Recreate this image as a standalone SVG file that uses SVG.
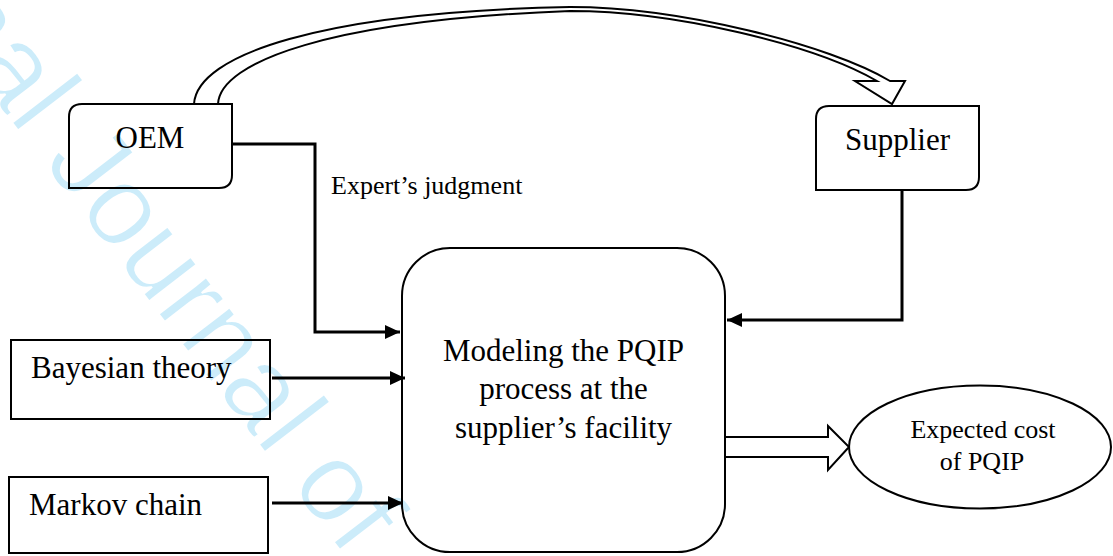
<svg xmlns="http://www.w3.org/2000/svg" width="1113" height="556" viewBox="0 0 1113 556">
  <style>
    .box { fill: none; stroke: #000; stroke-width: 2; }
    .conn { fill: none; stroke: #000; stroke-width: 3; }
    .hollow { fill: none; stroke: #000; stroke-width: 2; stroke-linejoin: miter; }
    .lbl { font-family: "Liberation Serif", "Times New Roman", serif; font-size: 31px; fill: #000; }
    .small { font-family: "Liberation Serif", "Times New Roman", serif; font-size: 26px; fill: #000; }
    .wm { font-family: "Liberation Sans", Arial, sans-serif; font-size: 114px; fill: #ccecfa; stroke: #fff; stroke-width: 2; }
  </style>
  <defs>
    <marker id="ah" viewBox="0 0 15 14" refX="15" refY="7" markerWidth="15" markerHeight="14" markerUnits="userSpaceOnUse" orient="auto">
      <path d="M0,0 L15,7 L0,14 z" fill="#000"/>
    </marker>
  </defs>
  <rect width="1113" height="556" fill="#fff"/>

  <g id="watermark">
    <text class="wm" transform="translate(-70,16) rotate(52.5)">nal Journal of</text>
  </g>

  <g id="connectors">
    <path id="oem-supplier" class="hollow" d="M194,104 C197,55 320,12 570,7 C680,7 830,45 890,81 L905,81 L892,104 L855,81 L877,81 C815,45 675,11 570,11 C330,20 220,62 218,104"/>
    <path id="oem-model" class="conn" d="M232,144 L315,144 L315,332 L400,332" marker-end="url(#ah)"/>
    <path id="bayes-model" class="conn" d="M272,378 L405,378" marker-end="url(#ah)"/>
    <path id="markov-model" class="conn" d="M272,503 L403,503" marker-end="url(#ah)"/>
    <path id="supplier-model" class="conn" d="M902,190 L902,320 L727,320" marker-end="url(#ah)"/>
    <path id="model-cost" class="hollow" d="M725,437 L828,437 L828,426 L849,447 L828,470 L828,457 L725,457"/>
    <text class="small" x="331" y="194" font-size="25.5">Expert’s judgment</text>
  </g>

  <g id="oem">
    <path class="box" d="M82,104 L232,104 L232,175 Q232,188 219,188 L69,188 L69,117 Q69,104 82,104 Z"/>
    <text class="lbl" x="150" y="148" text-anchor="middle">OEM</text>
  </g>

  <g id="supplier">
    <path class="box" d="M829,106 L979,106 L979,177 Q979,190 966,190 L816,190 L816,119 Q816,106 829,106 Z"/>
    <text class="lbl" x="897.5" y="150" text-anchor="middle">Supplier</text>
  </g>

  <g id="bayesian">
    <rect class="box" x="11" y="340" width="259" height="79"/>
    <text class="lbl" x="31" y="378">Bayesian theory</text>
  </g>

  <g id="markov">
    <rect class="box" x="9" y="477" width="259" height="76"/>
    <text class="lbl" x="29" y="515">Markov chain</text>
  </g>

  <g id="model">
    <rect class="box" x="402" y="248" width="323" height="304" rx="48" ry="48"/>
    <text class="lbl" x="563.5" y="361" text-anchor="middle">Modeling the PQIP</text>
    <text class="lbl" x="563.5" y="399" text-anchor="middle">process at the</text>
    <text class="lbl" x="563.5" y="438" text-anchor="middle">supplier’s facility</text>
  </g>

  <g id="cost">
    <ellipse class="box" cx="980" cy="447" rx="131" ry="61.5"/>
    <text class="small" x="983" y="438" text-anchor="middle">Expected cost</text>
    <text class="small" x="982" y="470" text-anchor="middle">of PQIP</text>
  </g>
</svg>
